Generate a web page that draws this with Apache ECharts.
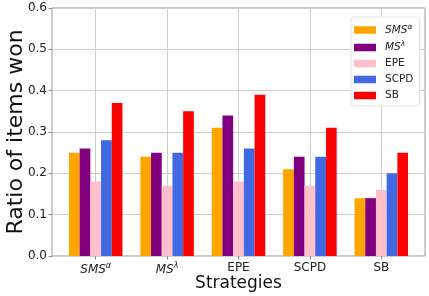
<!DOCTYPE html>
<html><head><meta charset="utf-8">
<script src="https://cdn.jsdelivr.net/npm/echarts@6/dist/echarts.min.js"></script>
<style>html,body{margin:0;padding:0;background:#fff}#c{width:429px;height:296px}</style>
</head><body><div id="c"></div>
<script>
const categories = ['SMSα', 'MSλ', 'EPE', 'SCPD', 'SB'];
const seriesNames = ['SMSα', 'MSλ', 'EPE', 'SCPD', 'SB'];
const smsAlpha = [0.25, 0.24, 0.31, 0.21, 0.14];
const msLambda = [0.26, 0.25, 0.34, 0.24, 0.14];
const epe = [0.18, 0.17, 0.18, 0.17, 0.16];
const scpd = [0.28, 0.25, 0.26, 0.24, 0.20];
const sb = [0.37, 0.35, 0.39, 0.31, 0.25];
const yTicks = [0.0, 0.1, 0.2, 0.3, 0.4, 0.5, 0.6];
const colors = ['#FFA500', '#800080', '#FFC0CB', '#4169E1', '#FF0000'];
const values = [smsAlpha, msLambda, epe, scpd, sb];

const FONT = 'DejaVu Sans';
const rich = {
  it: {fontFamily: FONT, fontStyle: 'italic', fontSize: 12, color: '#222'},
  sup: {fontFamily: FONT, fontStyle: 'italic', fontSize: 8, color: '#222', padding: [0, 0, 7, 0]},
  n: {fontFamily: FONT, fontSize: 12, color: '#222'},
  lit: {fontFamily: FONT, fontStyle: 'italic', fontSize: 10.5, color: '#222', padding: [0, 0, 0, 4]},
  lsup: {fontFamily: FONT, fontStyle: 'italic', fontSize: 7.5, color: '#222', padding: [0, 0, 6, 0]},
  ln: {fontFamily: FONT, fontSize: 10.5, color: '#222', padding: [0, 0, 0, 4]}
};
function fmt(name, big) {
  const a = big ? 'it' : 'lit', s = big ? 'sup' : 'lsup', n = big ? 'n' : 'ln';
  if (name === 'SMSα') return '{' + a + '|SMS}{' + s + '|α}';
  if (name === 'MSλ') return '{' + a + '|MS}{' + s + '|λ}';
  return '{' + n + '|' + name + '}';
}

const chart = echarts.init(document.getElementById('c'), null, {renderer: 'canvas'});
chart.setOption({
  animation: false,
  backgroundColor: '#fff',
  grid: [
    {left: 52, right: 4, top: 8, bottom: 40, show: true, borderColor: '#999', borderWidth: 1,
     backgroundColor: 'transparent', containLabel: false, outerBoundsMode: 'none'},
    {left: 60, right: 12, top: 8, bottom: 40, containLabel: false, outerBoundsMode: 'none'}
  ],
  xAxis: [
    {type: 'category', gridIndex: 0, data: categories, show: false},
    {type: 'category', gridIndex: 1, data: categories,
     axisLine: {show: false},
     axisTick: {show: true, alignWithLabel: true, interval: 0, length: 3.5, lineStyle: {color: '#888'}},
     axisLabel: {margin: 6, interval: 0, hideOverlap: false, formatter: v => fmt(v, true), rich: rich},
     splitLine: {show: true, alignWithLabel: true, interval: 0, lineStyle: {color: '#cfcfcf', width: 1}},
     name: 'Strategies', nameLocation: 'middle', nameGap: 19, nameMoveOverlap: false,
     nameTextStyle: {fontFamily: FONT, fontSize: 17, color: '#111'}}
  ],
  yAxis: [
    {type: 'value', gridIndex: 0, min: 0, max: 0.6, interval: 0.1,
     axisLine: {show: false},
     axisTick: {show: true, length: 3.5, lineStyle: {color: '#888'}},
     axisLabel: {fontFamily: FONT, fontSize: 12, color: '#222', margin: 5,
                 formatter: v => yTicks.find(t => Math.abs(t - v) < 1e-9).toFixed(1)},
     splitLine: {show: true, lineStyle: {color: '#cfcfcf', width: 1}},
     name: 'Ratio of items won', nameLocation: 'middle', nameGap: 25, nameMoveOverlap: false,
     nameTextStyle: {fontFamily: FONT, fontSize: 22, color: '#111'}},
    {type: 'value', gridIndex: 1, min: 0, max: 0.6, show: false, splitLine: {show: false}}
  ],
  legend: {
    orient: 'vertical', left: 351, top: 17,
    itemWidth: 22, itemHeight: 7.5, itemGap: 5,
    padding: [6, 6, 5, 3],
    backgroundColor: '#fff', borderColor: '#e4e4e4', borderWidth: 1, borderRadius: 3,
    icon: 'rect',
    data: seriesNames,
    formatter: n => fmt(n, false),
    textStyle: {rich: rich, fontFamily: FONT, fontSize: 10.5, color: '#222'}
  },
  series: seriesNames.map((name, i) => ({
    name: name, type: 'bar', xAxisIndex: 1, yAxisIndex: 1,
    data: values[i], barWidth: 10.7, barGap: '0%',
    itemStyle: {color: colors[i]}
  }))
});
</script></body></html>
